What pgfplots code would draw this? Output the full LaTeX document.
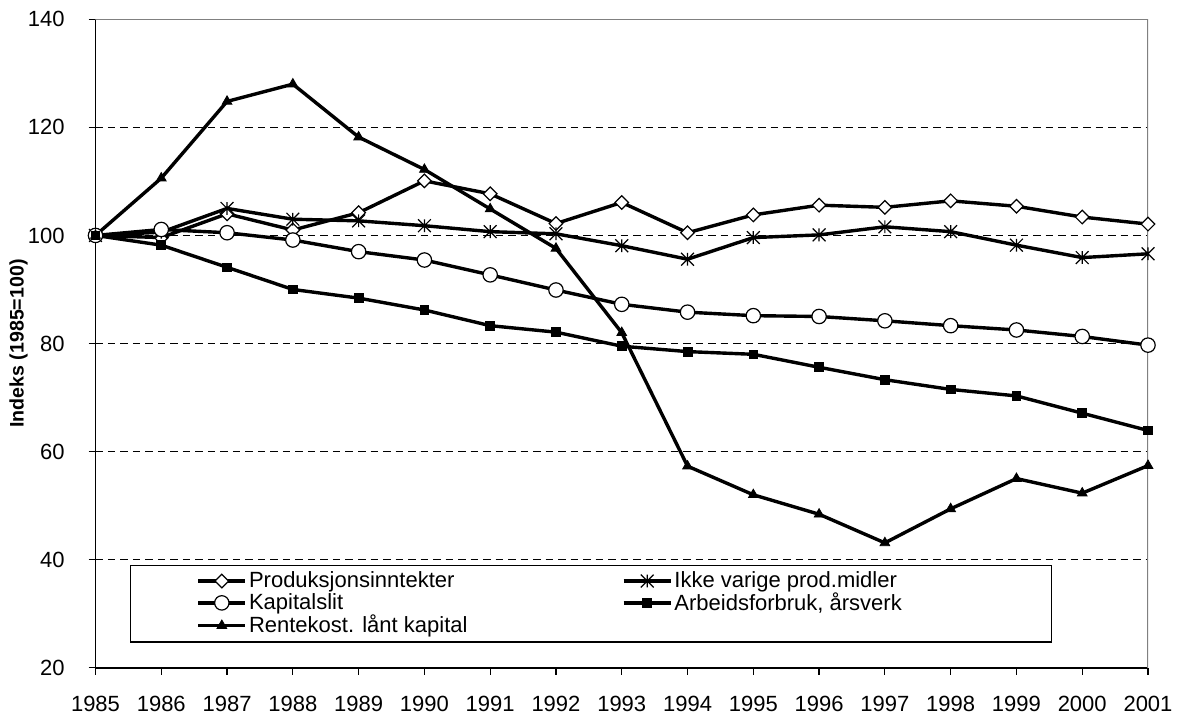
\documentclass[border=0pt]{standalone}
\usepackage{fontspec}
\setmainfont{Liberation Sans}
\usepackage{pgfplots}
\pgfplotsset{compat=1.18}
\newcommand\lgA[1]{\makebox[186.5bp][l]{\rule[-3.4bp]{0pt}{11.25bp}#1}}
\newcommand\lgB[1]{\makebox[155.5bp][l]{\rule[-3.4bp]{0pt}{11.25bp}#1}}
\pgfdeclareplotmark{xstar}{%
  \pgfpathmoveto{\pgfqpoint{0pt}{\pgfplotmarksize}}\pgfpathlineto{\pgfqpoint{0pt}{-\pgfplotmarksize}}%
  \pgfpathmoveto{\pgfqpoint{-\pgfplotmarksize}{\pgfplotmarksize}}\pgfpathlineto{\pgfqpoint{\pgfplotmarksize}{-\pgfplotmarksize}}%
  \pgfpathmoveto{\pgfqpoint{-\pgfplotmarksize}{-\pgfplotmarksize}}\pgfpathlineto{\pgfqpoint{\pgfplotmarksize}{\pgfplotmarksize}}%
  \pgfusepathqstroke}
\begin{document}
\begin{tikzpicture}
\begin{axis}[
  scale only axis,
  width=526.25bp, height=324.2bp,
  xmin=1985, xmax=2001, ymin=20, ymax=140,
  xtick={1985,1986,...,2001}, ytick={20,40,...,140},
  axis x line*=bottom, axis y line*=left,
  axis line style={-, black, line width=0.8bp},
  tick align=outside,
  major tick length=3.5bp,
  tick style={black, line width=0.6bp},
  ymajorgrids,
  grid style={black, line width=0.5bp, dash pattern=on 3.75bp off 2.5bp},
  /pgf/number format/assume math mode=true,
  /pgf/number format/1000 sep={},
  xticklabel style={font=\fontsize{11bp}{13bp}\selectfont, anchor=north, inner sep=0pt, yshift=-10.5bp},
  yticklabel style={font=\fontsize{11bp}{13bp}\selectfont, anchor=east, inner sep=0pt, xshift=-11.8bp},
  ylabel={Indeks (1985=100)},
  ylabel style={font=\fontsize{9.8bp}{11bp}\selectfont\bfseries, at={(axis description cs:-0.0732,0.5)}, anchor=center},
  legend columns=2,
  legend cell align=left,
  legend style={at={(axis description cs:0.0328,0.1584)}, anchor=north west, draw=black, line width=0.6bp,
    inner xsep=33bp, inner ysep=3bp, row sep=1.0bp, font=\fontsize{11bp}{13bp}\selectfont,
    nodes={inner sep=0pt},
    /tikz/every odd column/.append style={column sep=1bp}},
  legend image code/.code={\draw[mark repeat=2,mark phase=2,#1] plot coordinates {(0bp,0bp) (11.75bp,0bp) (23.5bp,0bp)};},
  every axis plot/.append style={black, line width=1.7bp},
]
\draw[gray, line width=0.9bp] (rel axis cs:0,1) -- (rel axis cs:1,1) -- (rel axis cs:1,0);

\addplot[mark=square*, mark size=2.4bp, mark options={rotate=45, fill=white, draw=black, line width=0.6bp, solid}] coordinates {
(1985,100) (1986,99.6) (1987,104.0) (1988,101.0) (1989,104.2) (1990,110.1) (1991,107.7) (1992,102.2) (1993,106.1) (1994,100.5) (1995,103.8) (1996,105.6) (1997,105.2) (1998,106.4) (1999,105.4) (2000,103.4) (2001,102.1)};
\addlegendentry{\lgA{Produksjonsinntekter}}

\addplot[mark=xstar, mark size=3.2bp, mark options={line width=0.6bp, solid}] coordinates {
(1985,100) (1986,100.6) (1987,105.0) (1988,103.0) (1989,102.7) (1990,101.8) (1991,100.7) (1992,100.3) (1993,98.1) (1994,95.6) (1995,99.6) (1996,100.1) (1997,101.6) (1998,100.7) (1999,98.2) (2000,95.9) (2001,96.6)};
\addlegendentry{\lgB{Ikke varige prod.midler}}

\addplot[mark=*, mark size=3.6bp, mark options={fill=white, draw=black, line width=0.6bp, solid}] coordinates {
(1985,100) (1986,101.1) (1987,100.5) (1988,99.15) (1989,97.0) (1990,95.45) (1991,92.7) (1992,89.9) (1993,87.25) (1994,85.8) (1995,85.15) (1996,85.0) (1997,84.2) (1998,83.3) (1999,82.5) (2000,81.3) (2001,79.7)};
\addlegendentry{\lgA{Kapitalslit}}

\addplot[mark=square*, mark size=2.2bp, mark options={fill=black, line width=0.4bp, solid}] coordinates {
(1985,100) (1986,98.2) (1987,94.1) (1988,90.0) (1989,88.4) (1990,86.2) (1991,83.3) (1992,82.1) (1993,79.5) (1994,78.5) (1995,78.0) (1996,75.6) (1997,73.3) (1998,71.5) (1999,70.3) (2000,67.1) (2001,63.9)};
\addlegendentry{\lgB{Arbeidsforbruk, årsverk}}

\addplot[mark=triangle*, mark size=2.8bp, mark options={fill=black, line width=0.4bp, solid}] coordinates {
(1985,100) (1986,110.6) (1987,124.8) (1988,128.0) (1989,118.2) (1990,112.2) (1991,104.9) (1992,97.6) (1993,82.0) (1994,57.3) (1995,52.0) (1996,48.4) (1997,43.1) (1998,49.4) (1999,55.0) (2000,52.3) (2001,57.4)};
\addlegendentry{\lgA{Rentekost. lånt kapital}}
\end{axis}
\path ([shift={(-47.75bp,-22.65bp)}]current axis.south west) rectangle ([shift={(15.5bp,9.65bp)}]current axis.north east);
\end{tikzpicture}
\end{document}
